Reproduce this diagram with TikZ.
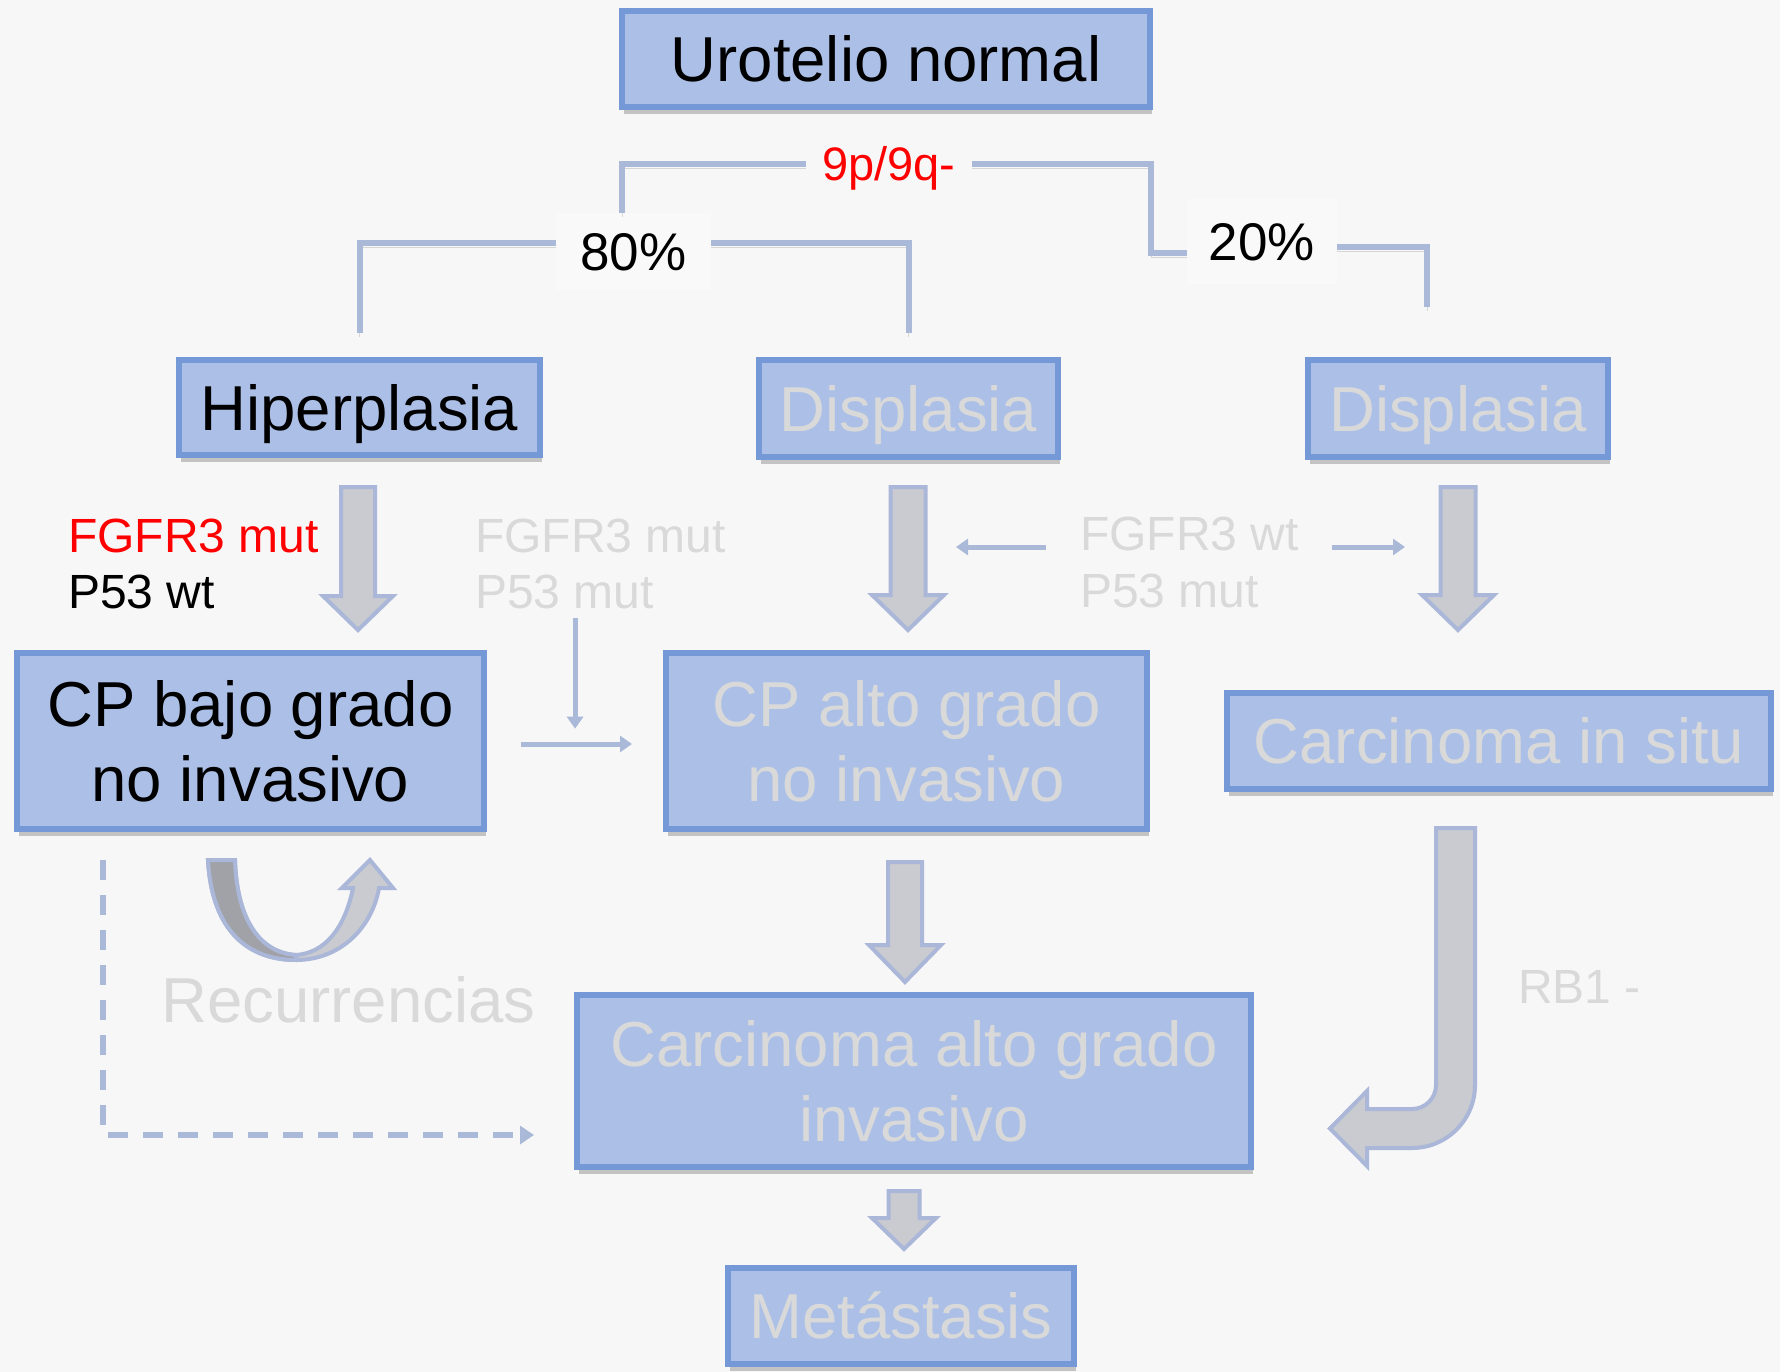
\documentclass[tikz,border=0pt]{standalone}
\usepackage{fontspec}
\setmainfont{Liberation Sans}
\usetikzlibrary{calc,arrows.meta,shadows}
\definecolor{bgc}{RGB}{247,247,247}
\definecolor{lblbg}{RGB}{249,249,249}
\definecolor{boxfill}{RGB}{172,192,231}
\definecolor{boxline}{RGB}{117,152,214}
\definecolor{txtgray}{RGB}{217,217,217}
\definecolor{arrfill}{RGB}{201,203,208}
\definecolor{arrline}{RGB}{170,183,216}
\definecolor{linec}{RGB}{170,185,216}
\definecolor{udark}{RGB}{160,162,168}
\definecolor{redc}{RGB}{255,0,0}
\newcommand\fBig{\fontsize{63.5pt}{75pt}\selectfont}
\newcommand\fMid{\fontsize{48pt}{57pt}\selectfont}
\newcommand\fPct{\fontsize{53pt}{60pt}\selectfont}
\newcommand\fNine{\fontsize{47pt}{55pt}\selectfont}
\begin{document}
\begin{tikzpicture}[x=1pt,y=-1pt,
  box/.style={draw=boxline, fill=boxfill, line width=6pt, inner sep=0pt, font=\fBig,
    align=flush center, text height=45.5pt, text depth=0pt,
    drop shadow={shadow xshift=2pt, shadow yshift=-7pt, opacity=0.3, fill=black!70}},
  box2/.style={box, text depth=75pt},
  gtxt/.style={text=txtgray},
  barrow/.style={fill=arrfill, draw=arrline, line width=4pt, line join=miter},
  bracket/.style={draw=linec, line width=6pt,
    preaction={draw=black!45, opacity=0.3, transform canvas={yshift=-4pt}}},
  thinarr/.style={draw=linec, line width=5pt, -{Triangle[length=12pt,width=16pt]}},
  dasharr/.style={draw=linec, line width=6pt, dash pattern=on 20pt off 15pt,
    -{Triangle[length=14pt,width=18pt]}},
  lbl/.style={inner sep=0pt, anchor=base west, font=\fMid},
  pct/.style={fill=lblbg, inner sep=0pt, text height=38pt, text depth=0pt, font=\fPct}
]
\fill[bgc] (0,0) rectangle (1780,1372);
\useasboundingbox (0,0) rectangle (1780,1372);

% boxes
\node[box, text width=528pt, minimum height=96pt] (uro) at (886,59) {Urotelio normal};
\node[box, text width=361pt, minimum height=95pt] (hip) at (359.5,407.5) {Hiperplasia};
\node[box, gtxt, text width=299pt, minimum height=97pt] (dis1) at (908.5,408.5) {Displasia};
\node[box, gtxt, text width=300pt, minimum height=97pt] (dis2) at (1458,408.5) {Displasia};
\node[box2, text width=467pt, minimum height=176pt] (cpb) at (250.5,741) {CP bajo grado\\no invasivo};
\node[box2, gtxt, text width=481pt, minimum height=176pt] (cpa) at (906.5,741) {CP alto grado\\no invasivo};
\node[box, gtxt, text width=544pt, minimum height=96pt] (cis) at (1499,741) {Carcinoma in situ};
\node[box2, gtxt, text width=674pt, minimum height=172pt] (cai) at (914,1081) {Carcinoma alto grado\\invasivo};
\node[box, gtxt, text width=346pt, minimum height=96pt] (met) at (901,1316) {Metástasis};

% branch labels
\node[inner sep=0pt, minimum width=166pt, text height=33.6pt, text depth=0pt, font=\fNine, text=redc] (l9p) at (889,164) {9p/9q-};
\node[pct, minimum width=155pt, minimum height=77pt] (p80) at (633.5,251.5) {80\%};
\node[pct, minimum width=150pt, minimum height=85pt] (p20) at (1262,242) {20\%};

% brackets
\coordinate (k20) at (1151,253);
\draw[bracket] (l9p.west) -| ($(p80.north)+(-11.5,0)$);
\draw[bracket] (l9p.east) -| (k20) -- (k20 -| p20.west);
\draw[bracket, shorten >=24pt] ($(p80.west)+(0,-8.5)$) -| (hip.north);
\draw[bracket, shorten >=24pt] ($(p80.east)+(0,-8.5)$) -| (dis1.north);
\draw[bracket] ($(p20.east)+(0,5)$) -| ($(dis2.north)+(-31,-50)$);

% mutation labels
\node[lbl, text=redc] (fgr) at (68,552) {FGFR3 mut};
\node[lbl] (p53r) at (68,608) {P53 wt};
\node[lbl, gtxt] (fgm) at (475,552) {FGFR3 mut};
\node[lbl, gtxt] (p53m) at (475,608) {P53 mut};
\node[lbl, gtxt] (fgw) at (1080,550) {FGFR3 wt};
\node[lbl, gtxt] (p53w) at (1080,607) {P53 mut};
\node[lbl, gtxt, font=\fBig] (rec) at (161,1022) {Recurrencias};
\node[lbl, gtxt] (rb1) at (1518,1003) {RB1 -};

% block arrows
\begin{scope}[shift={(hip.south)}]
\draw[barrow] (-18.5,29) -- (15.5,29) -- (15.5,138) -- (33.5,138) -- (-1.5,172) -- (-36.5,138) -- (-18.5,138) -- cycle;
\end{scope}
\begin{scope}[shift={(dis1.south)}]
\draw[barrow] (-18,27) -- (17,27) -- (17,135) -- (35.5,135) -- (-0.5,170) -- (-36.5,135) -- (-18,135) -- cycle;
\end{scope}
\begin{scope}[shift={(dis2.south)}]
\draw[barrow] (-17.5,27) -- (17.5,27) -- (17.5,135) -- (36,135) -- (0,170) -- (-36,135) -- (-17.5,135) -- cycle;
\end{scope}
\begin{scope}[shift={(cpa.south)}]
\draw[barrow] (-18.5,30) -- (15.5,30) -- (15.5,113) -- (34.5,113) -- (-1.5,150) -- (-37.5,113) -- (-18.5,113) -- cycle;
\end{scope}
\begin{scope}[shift={(cai.south)}]
\draw[barrow] (-25.5,21) -- (5.5,21) -- (5.5,48) -- (22,48) -- (-10,79) -- (-42,48) -- (-25.5,48) -- cycle;
\end{scope}
% bent arrow CIS -> invasive
\begin{scope}[shift={(cis.south)}]
\draw[barrow] (-63,36) -- (-63,293) .. controls (-63,306.25) and (-73.75,317) .. (-87,317)
  -- (-132,317) -- (-132,299) -- (-169,336.5) -- (-132,374) -- (-132,356) -- (-87,356)
  .. controls (-52.2,356) and (-24,327.8) .. (-24,293) -- (-24,36) -- cycle;
\end{scope}
% U-turn (recurrences)
\begin{scope}[shift={(cpb.south)}]
\draw[barrow] (-42.5,28) .. controls (-38.5,101) and (-0.5,128) .. (45.5,128)
  .. controls (89.5,128) and (121.5,96) .. (128.5,56) -- (142.5,56) -- (119.5,28)
  -- (91.5,56) -- (102.5,56) .. controls (94.5,96) and (74.5,121) .. (45.5,123)
  .. controls (11.5,121) and (-13.5,91) .. (-15.5,28) -- cycle;
\draw[barrow, fill=udark] (-42.5,28) .. controls (-38.5,101) and (-0.5,128) .. (45.5,128)
  -- (45.5,123) .. controls (11.5,121) and (-13.5,91) .. (-15.5,28) -- cycle;
\end{scope}

% thin arrows
\draw[thinarr] ($(p53m.south)+(10.5,9)$) -- ($(p53m.south)+(10.5,120)$);
\draw[thinarr] ($(cpb.east)+(34,3)$) -- ($(cpa.west)+(-31,3)$);
\draw[thinarr] ($(fgw.base west)+(-34,-3)$) -- ($(fgw.base west)+(-124,-3)$);
\draw[thinarr] ($(fgw.base west)+(252,-3)$) -- ($(fgw.base west)+(325,-3)$);

% dashed arrow
\draw[dasharr] ($(cpb.south west)+(89,28)$) |- ($(cai.west)+(-40,54)$);
\end{tikzpicture}
\end{document}
